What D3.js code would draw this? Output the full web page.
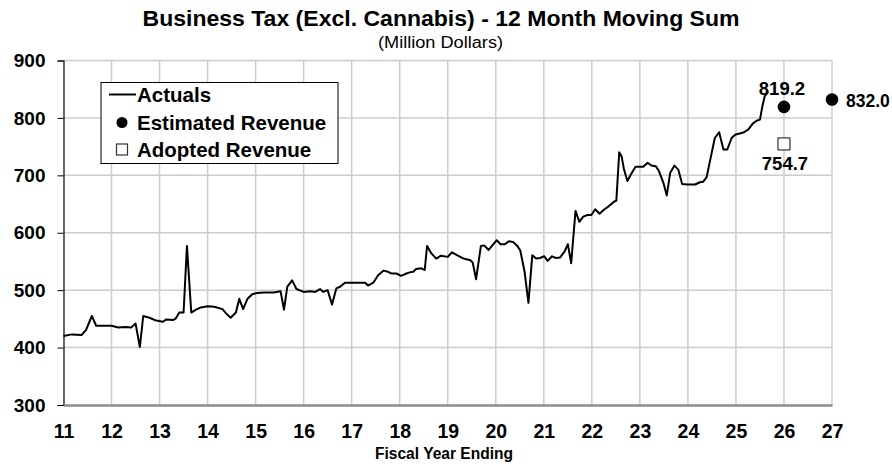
<!DOCTYPE html>
<html>
<head>
<meta charset="utf-8">
<script src="https://cdn.jsdelivr.net/npm/d3@7"></script>
<style>
  body { margin: 0; background: #fff; }
  text { font-family: "Liberation Sans", Arial, sans-serif; fill: #000; }
</style>
</head>
<body>
<svg id="chart" width="892" height="464"></svg>
<script>
const actuals = [
  [11.00, 420], [11.17, 423], [11.38, 422], [11.47, 431], [11.59, 455], [11.68, 438],
  [11.83, 438], [12.00, 438], [12.14, 435], [12.28, 436], [12.41, 435], [12.50, 442],
  [12.59, 401], [12.66, 455], [12.79, 452], [12.93, 447], [13.07, 445], [13.14, 449],
  [13.28, 448], [13.34, 451], [13.41, 461], [13.50, 461], [13.57, 577], [13.66, 461],
  [13.76, 466], [13.86, 470], [14.00, 472], [14.14, 471], [14.31, 467], [14.38, 460],
  [14.48, 452], [14.59, 461], [14.66, 485], [14.74, 467], [14.83, 485], [14.93, 493],
  [15.03, 495], [15.17, 496], [15.38, 496], [15.52, 498], [15.59, 466], [15.66, 506],
  [15.76, 517], [15.85, 502], [16.00, 497], [16.14, 498], [16.24, 497], [16.34, 502],
  [16.41, 497], [16.50, 500], [16.59, 475], [16.68, 503], [16.76, 506], [16.86, 513],
  [17.00, 513], [17.28, 513], [17.34, 508], [17.45, 513], [17.55, 526], [17.66, 534],
  [17.76, 532], [17.83, 529], [17.93, 529], [18.03, 525], [18.14, 529], [18.21, 531],
  [18.28, 532], [18.34, 537], [18.45, 538], [18.52, 535], [18.57, 577], [18.66, 564],
  [18.76, 555], [18.86, 560], [19.00, 558], [19.09, 566], [19.19, 561], [19.33, 555],
  [19.47, 552], [19.52, 548], [19.59, 519], [19.69, 577], [19.76, 578], [19.85, 570],
  [19.93, 578], [20.02, 587], [20.10, 580], [20.19, 580], [20.27, 585], [20.36, 584],
  [20.44, 578], [20.51, 569], [20.60, 532], [20.68, 478], [20.76, 561], [20.84, 555],
  [20.92, 556], [21.01, 559], [21.08, 551], [21.17, 559], [21.25, 556], [21.34, 557],
  [21.43, 567], [21.50, 580], [21.57, 547], [21.66, 638], [21.74, 619], [21.82, 628],
  [21.91, 631], [21.99, 631], [22.07, 641], [22.16, 633], [22.25, 640], [22.35, 646],
  [22.46, 654], [22.51, 656], [22.57, 740], [22.62, 733], [22.67, 710], [22.74, 690],
  [22.83, 704], [22.91, 715], [23.07, 715], [23.16, 722], [23.24, 717], [23.33, 716],
  [23.40, 707], [23.49, 687], [23.56, 665], [23.63, 704], [23.72, 717], [23.80, 710],
  [23.88, 685], [23.99, 684], [24.15, 684], [24.25, 688], [24.32, 689], [24.39, 697],
  [24.48, 733], [24.56, 765], [24.65, 775], [24.74, 745], [24.82, 745], [24.91, 765],
  [24.99, 771], [25.08, 773], [25.17, 775], [25.26, 780], [25.35, 790], [25.43, 795],
  [25.50, 797], [25.55, 820], [25.60, 838], [25.67, 845]
];

const estimated = [
  { fy: 26, value: 819.2 },
  { fy: 27, value: 832.0 }
];
const adopted = [
  { fy: 26, value: 754.7 }
];

const xTicks = d3.range(11, 28);
const yTicks = [300, 400, 500, 600, 700, 800, 900];
const legendLabels = ["Actuals", "Estimated Revenue", "Adopted Revenue"];

const svg = d3.select("#chart"),
  margin = { top: 60.5, right: 60, bottom: 59, left: 63.5 },
  width = 832 - margin.left,
  height = 405 - margin.top;

const x = d3.scaleLinear().domain([11, 27]).range([0, width]);
const y = d3.scaleLinear().domain([300, 900]).range([height, 0]);

const chart = svg.append("g")
  .attr("transform", `translate(${margin.left},${margin.top})`);

// grid
chart.append("g")
  .selectAll("line")
  .data(yTicks.slice(1))
  .join("line")
  .attr("x1", 0).attr("x2", width)
  .attr("y1", d => y(d)).attr("y2", d => y(d))
  .attr("stroke", "#cccccc").attr("stroke-width", 1.5);

chart.append("g")
  .selectAll("line")
  .data(xTicks.slice(1))
  .join("line")
  .attr("x1", d => x(d)).attr("x2", d => x(d))
  .attr("y1", 0).attr("y2", height)
  .attr("stroke", "#cccccc").attr("stroke-width", 1.5);

// axes
const yAxis = chart.append("g")
  .call(d3.axisLeft(y).tickValues(yTicks).tickSize(6).tickPadding(12));
yAxis.select(".domain").attr("stroke", "#000").attr("stroke-width", 1.2);
yAxis.selectAll(".tick line").attr("stroke", "#000");
yAxis.selectAll("text")
  .style("font-size", "19px").style("font-weight", "bold")
  .attr("font-family", null);

const xAxis = chart.append("g")
  .attr("transform", `translate(0,${height})`)
  .call(d3.axisBottom(x).tickValues(xTicks).tickSize(0).tickPadding(19));
xAxis.select(".domain").attr("stroke", "#8c8c8c").attr("stroke-width", 2.5);
xAxis.selectAll("text")
  .style("font-size", "19.5px").style("font-weight", "bold")
  .attr("font-family", null);

// actuals line
const line = d3.line()
  .x(d => x(d[0]))
  .y(d => y(d[1]));

chart.append("path")
  .datum(actuals)
  .attr("fill", "none")
  .attr("stroke", "#000")
  .attr("stroke-width", 2)
  .attr("stroke-linejoin", "round")
  .attr("d", line);

// estimated dots
chart.selectAll("circle.est")
  .data(estimated)
  .join("circle")
  .attr("class", "est")
  .attr("cx", d => x(d.fy))
  .attr("cy", d => y(d.value))
  .attr("r", 6.3)
  .attr("fill", "#000");

// adopted squares
chart.selectAll("rect.adopt")
  .data(adopted)
  .join("rect")
  .attr("class", "adopt")
  .attr("x", d => x(d.fy) - 6)
  .attr("y", d => y(d.value) - 6)
  .attr("width", 12).attr("height", 12)
  .attr("fill", "#fff")
  .attr("stroke", "#333").attr("stroke-width", 1.2);

// value labels
const lbl = (t, s) => t.style("font-size", s || "18.5px").style("font-weight", "bold");
chart.append("text")
  .attr("x", x(estimated[0].fy) - 2)
  .attr("y", y(estimated[0].value) - 12)
  .attr("text-anchor", "middle")
  .text(estimated[0].value.toFixed(1))
  .call(lbl);
chart.append("text")
  .attr("x", x(estimated[1].fy) + 14)
  .attr("y", y(estimated[1].value) + 7)
  .attr("text-anchor", "start")
  .text(estimated[1].value.toFixed(1))
  .call(lbl, "17.5px");
chart.append("text")
  .attr("x", x(adopted[0].fy) + 1)
  .attr("y", y(adopted[0].value) + 26)
  .attr("text-anchor", "middle")
  .text(adopted[0].value.toFixed(1))
  .call(lbl);

// legend
const legend = svg.append("g").attr("transform", "translate(101,82.5)");
legend.append("rect")
  .attr("width", 237).attr("height", 81)
  .attr("fill", "#fff").attr("stroke", "#000").attr("stroke-width", 1);
legend.append("line")
  .attr("x1", 8).attr("x2", 35).attr("y1", 12).attr("y2", 12)
  .attr("stroke", "#000").attr("stroke-width", 2);
legend.append("circle")
  .attr("cx", 21).attr("cy", 40).attr("r", 5.5).attr("fill", "#000");
legend.append("rect")
  .attr("x", 15.5).attr("y", 61.5).attr("width", 11).attr("height", 11)
  .attr("fill", "#fff").attr("stroke", "#333").attr("stroke-width", 1.2);
legend.selectAll("text.leg")
  .data(legendLabels)
  .join("text")
  .attr("class", "leg")
  .attr("x", 36)
  .attr("y", (d, i) => 19.5 + i * 27.5)
  .style("font-size", "20.5px").style("font-weight", "bold")
  .text(d => d);

// titles
svg.append("text")
  .attr("x", 441).attr("y", 26)
  .attr("text-anchor", "middle")
  .attr("textLength", 597).attr("lengthAdjust", "spacingAndGlyphs")
  .style("font-size", "22.5px").style("font-weight", "bold")
  .text("Business Tax (Excl. Cannabis) - 12 Month Moving Sum");
svg.append("text")
  .attr("x", 440.5).attr("y", 48)
  .attr("text-anchor", "middle")
  .attr("textLength", 125).attr("lengthAdjust", "spacingAndGlyphs")
  .style("font-size", "16px")
  .text("(Million Dollars)");
svg.append("text")
  .attr("x", 444).attr("y", 459)
  .attr("text-anchor", "middle")
  .attr("textLength", 138).attr("lengthAdjust", "spacingAndGlyphs")
  .style("font-size", "16px").style("font-weight", "bold")
  .text("Fiscal Year Ending");
</script>
</body>
</html>
